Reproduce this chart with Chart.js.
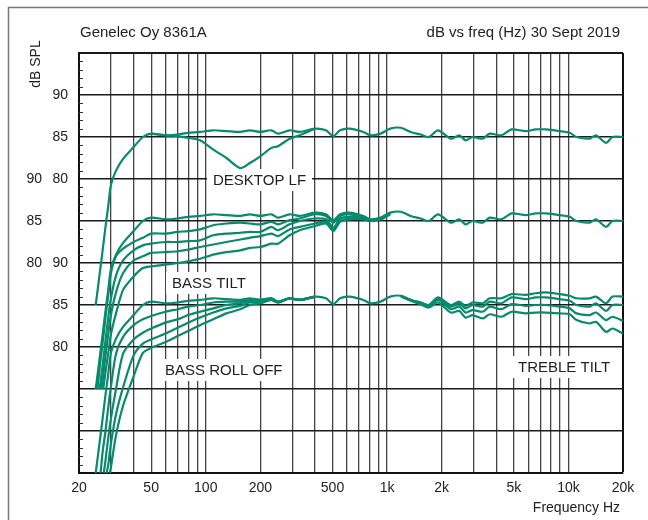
<!DOCTYPE html>
<html>
<head>
<meta charset="utf-8">
<script src="https://cdn.jsdelivr.net/npm/chart.js@4.4.1/dist/chart.umd.min.js"></script>
<style>
html, body { margin: 0; padding: 0; background: #fff; }
#wrap { width: 648px; height: 520px; }
</style>
</head>
<body>
<div id="wrap"><canvas id="myChart" width="648" height="520"></canvas></div>
<script>
const ctx = document.getElementById('myChart').getContext('2d');

// frequency grid of the readings (Hz)
const freqs = [25, 26, 27, 28, 29, 30, 32, 35, 40, 45, 50, 60, 70, 80, 93, 110, 130, 155, 175, 200,
    230, 250, 290, 330, 400, 460, 506, 550, 620, 740, 810, 920, 1040, 1190, 1350, 1530, 1700, 1910,
    2250, 2500, 2710, 2960, 3370, 3680, 4270, 4860, 5800, 6600, 7520, 8930, 10160, 11080, 13100,
    14200, 16100, 17500, 20000];
const lowFreqs = freqs.slice(0, 33);   // 25 Hz .. 1040 Hz
const highFreqs = freqs.slice(33);     // 1190 Hz .. 20 kHz

// dB SPL, all switches flat
const flat = [65.8, 68.7, 71.5, 74.3, 76.8, 79.3, 81.0, 82.4, 83.8, 85.0, 85.4, 85.2, 85.3, 85.5, 85.6,
    85.8, 85.7, 85.6, 85.8, 85.6, 85.8, 85.4, 85.8, 85.6, 86.0, 85.8, 85.1, 85.8, 86.0, 85.6, 85.2,
    85.4, 86.0, 86.1, 85.6, 85.3, 85.0, 85.8, 84.8, 85.2, 84.6, 85.0, 84.8, 85.4, 85.2, 85.9, 85.7,
    85.9, 85.9, 85.7, 85.5, 85.0, 84.8, 85.2, 84.3, 85.0, 85.0];

// desktop LF (on lowFreqs)
const desktop = [null, null, null, null, null, null, null, null, null, null, 85.4, 85.2, 85.1, 84.9,
    84.6, 83.5, 82.5, 81.3, 81.9, 82.7, 83.7, 83.9, 84.8, 85.2, 86.0];

// bass tilt steps (on lowFreqs)
const tilt1 = [null, 67.5, 70.5, 73.5, 76.2, 78.8, 80.8, 81.7, 82.5, 83.0, 83.5, 83.5, 83.7, 83.8, 84.0,
    84.5, 84.7, 84.8, 84.7, 84.6, 84.9, 84.6, 85.1, 85.3, 85.8, 85.6, 84.8, 85.6, 85.8, 85.5, 85.1, 85.3, 86.0];
const tilt2 = [null, null, 67.8, 70.8, 73.5, 75.8, 78.5, 80.3, 81.5, 82.1, 82.3, 82.5, 82.5, 82.6, 82.7,
    83.3, 83.5, 83.6, 83.7, 83.7, 84.3, 83.9, 84.6, 85.0, 85.3, 85.2, 84.2, 85.3, 85.5, 85.4, 85.1, 85.3, 85.9];
const tilt3 = [null, null, 66.0, 69.0, 71.5, 73.8, 76.5, 78.8, 80.3, 80.8, 81.2, 81.3, 81.4, 81.6, 81.9,
    82.2, 82.5, 82.8, 83.0, 83.2, 83.5, 83.2, 84.0, 84.3, 84.7, 84.9, 84.0, 85.0, 85.3, 85.3, 85.0, 85.2, 85.8];
const tilt4 = [null, null, null, 67.0, 69.3, 71.5, 74.0, 76.8, 78.4, 79.4, 79.6, 79.8, 80.0, 80.2, 80.5,
    81.0, 81.3, 81.5, 81.8, 81.9, 82.3, 82.3, 83.3, 83.9, 84.4, 84.7, 83.8, 84.9, 85.2, 85.2, 85.0, 85.2, 85.8];

// bass roll off steps (on lowFreqs)
const roll1 = [null, null, 67.5, 70.0, 72.8, 75.3, 79.2, 81.2, 82.6, 83.3, 83.7, 84.2, 84.5, 84.8, 85.0,
    85.3, 85.4, 85.4, 85.7, 85.6, 85.8, 85.4, 85.8, 85.6, 86.0];
const roll2 = [null, null, null, 66.5, 69.2, 71.5, 75.0, 79.2, 80.9, 81.7, 82.2, 82.9, 83.3, 83.8, 84.2,
    84.6, 85.0, 85.2, 85.5, 85.4, 85.7, 85.4, 85.8, 85.6, 86.0];
const roll3 = [null, null, null, null, 66.0, 68.5, 72.0, 75.2, 79.0, 80.4, 80.9, 81.6, 82.3, 82.9, 83.5,
    84.1, 84.6, 84.9, 85.3, 85.3, 85.6, 85.3, 85.8, 85.6, 86.0];
const roll4 = [null, null, null, null, null, 65.7, 69.5, 73.0, 76.5, 79.3, 79.9, 80.6, 81.3, 81.9, 82.6,
    83.3, 84.0, 84.5, 85.0, 85.2, 85.6, 85.3, 85.8, 85.6, 86.0];

// treble tilt steps (on highFreqs)
const trebleUp = [86.1, 85.6, 85.3, 85.0, 85.9, 85.0, 85.4, 84.9, 85.3, 85.2, 85.8, 85.8, 86.3, 86.2, 86.4,
    86.5, 86.3, 86.1, 85.8, 85.8, 86.0, 85.2, 86.0, 86.0];
const trebleDn1 = [86.1, 85.6, 85.2, 84.9, 85.6, 84.5, 84.8, 84.1, 84.4, 84.2, 84.8, 84.5, 85.1, 84.9, 85.0,
    85.0, 84.8, 84.6, 84.0, 83.8, 84.1, 83.2, 83.6, 83.1];
const trebleDn2 = [86.0, 85.5, 85.1, 84.7, 85.3, 84.1, 84.3, 83.5, 83.8, 83.4, 83.9, 83.6, 84.2, 84.0, 84.1,
    84.1, 84.0, 83.9, 83.2, 82.8, 83.0, 81.8, 82.2, 81.6];

// frequency where each curve leaves the 65 dB floor of its group
const floorDb = 65;
const startFlat = 24.7;
const startTilt = [25.3, 26.0, 26.6, 27.2];
const startRoll = [26.3, 27.4, 28.4, 29.6];

// dB offsets of the three stacked groups on the plotting scale
const offsetTop = 45, offsetMid = 55, offsetBottom = 65;

// axes
const xGrid = [20, 30, 40, 50, 60, 70, 80, 90, 100, 200, 300, 400, 500, 600, 700, 800, 900,
    1000, 2000, 3000, 4000, 5000, 6000, 7000, 8000, 9000, 10000, 20000];
const xTickVals = [20, 50, 100, 200, 500, 1000, 2000, 5000, 10000, 20000];
const xTickText = ['20', '50', '100', '200', '500', '1k', '2k', '5k', '10k', '20k'];
const yGrid = [0, 5, 10, 15, 20, 25, 30, 35, 40, 45, 50];
const yTickVals = [45, 40, 35, 30, 25, 20, 15];
const yTickRight = ['90', '85', '80', '', '90', '85', '80'];
const yTickLeft = ['', '', '90', '85', '80', '', ''];

const green = '#078a6d';
const ink = '#222';
const fontName = '"Liberation Sans", Arial, sans-serif';

function series(fs, vals, start, offset) {
    const pts = [];
    if (start) pts.push({x: start, y: floorDb - offset});
    fs.forEach(function (f, i) {
        if (vals[i] !== null && vals[i] !== undefined) pts.push({x: f, y: vals[i] - offset});
    });
    return pts;
}

const curves = [
    series(freqs, flat, startFlat, offsetTop),
    series(lowFreqs, desktop, null, offsetTop),
    series(freqs, flat, startFlat, offsetMid),
    series(lowFreqs, tilt1, startTilt[0], offsetMid),
    series(lowFreqs, tilt2, startTilt[1], offsetMid),
    series(lowFreqs, tilt3, startTilt[2], offsetMid),
    series(lowFreqs, tilt4, startTilt[3], offsetMid),
    series(freqs, flat, startFlat, offsetBottom),
    series(lowFreqs, roll1, startRoll[0], offsetBottom),
    series(lowFreqs, roll2, startRoll[1], offsetBottom),
    series(lowFreqs, roll3, startRoll[2], offsetBottom),
    series(lowFreqs, roll4, startRoll[3], offsetBottom),
    series(highFreqs, trebleUp, null, offsetBottom),
    series(highFreqs, trebleDn1, null, offsetBottom),
    series(highFreqs, trebleDn2, null, offsetBottom)
];

// boxed labels inside the plot
const notes = [
    {text: 'DESKTOP LF', x: 213, y: 180},
    {text: 'BASS TILT', x: 172, y: 283},
    {text: 'BASS ROLL OFF', x: 165, y: 370},
    {text: 'TREBLE TILT', x: 518, y: 367}
];

const decor = {
    id: 'decor',
    beforeDraw(chart) {
        const c = chart.ctx;
        c.save();
        c.strokeStyle = '#777';
        c.lineWidth = 1.5;
        c.strokeRect(8.5, 7.5, 700, 600);
        c.restore();
    },
    beforeDatasetsDraw(chart) {
        const c = chart.ctx;
        c.save();
        c.font = '15px ' + fontName;
        c.textBaseline = 'middle';
        c.textAlign = 'left';
        for (const n of notes) {
            const w = c.measureText(n.text).width;
            c.fillStyle = '#fff';
            c.fillRect(n.x - 6, n.y - 11, w + 12, 22);
            c.fillStyle = ink;
            c.fillText(n.text, n.x, n.y + 1);
        }
        c.restore();
    },
    afterDraw(chart) {
        const c = chart.ctx;
        const y = chart.scales.y;
        const area = chart.chartArea;
        c.save();
        // minor ticks, 1 dB
        c.strokeStyle = '#333';
        c.lineWidth = 1;
        for (let v = 1; v < 50; v++) {
            if (v % 5 === 0) continue;
            const py = Math.round(y.getPixelForValue(v)) + 0.5;
            c.beginPath();
            c.moveTo(area.left, py);
            c.lineTo(area.left + 4, py);
            c.stroke();
        }
        // second column of y labels
        c.fillStyle = ink;
        c.font = '14px ' + fontName;
        c.textAlign = 'right';
        c.textBaseline = 'middle';
        yTickVals.forEach(function (v, i) {
            if (yTickLeft[i]) c.fillText(yTickLeft[i], 42, y.getPixelForValue(v));
        });
        // titles
        c.font = '15px ' + fontName;
        c.textAlign = 'left';
        c.fillText('Genelec Oy 8361A', 80, 33);
        c.textAlign = 'right';
        c.fillText('dB vs freq (Hz) 30 Sept 2019', 620, 33);
        c.font = '14px ' + fontName;
        c.fillText('Frequency Hz', 620, 508);
        c.translate(36, 64);
        c.rotate(-Math.PI / 2);
        c.textAlign = 'center';
        c.font = '14px ' + fontName;
        c.fillText('dB SPL', 0, 0);
        c.restore();
    }
};

const myChart = new Chart(ctx, {
    type: 'line',
    data: {
        datasets: curves.map(function (pts) {
            return {data: pts, borderColor: green, borderWidth: 2.2, pointRadius: 0, fill: false, tension: 0.25};
        })
    },
    options: {
        responsive: false,
        animation: false,
        devicePixelRatio: 1,
        layout: {padding: {left: 0, right: 25, top: 53, bottom: 0}},
        plugins: {legend: {display: false}, tooltip: {enabled: false}},
        scales: {
            x: {
                type: 'logarithmic',
                min: 20,
                max: 20000,
                afterBuildTicks: function (s) { s.ticks = xGrid.map(function (v) { return {value: v}; }); },
                afterFit: function (s) { s.height = 47; },
                ticks: {
                    autoSkip: false,
                    maxRotation: 0,
                    padding: 7,
                    color: ink,
                    font: {family: fontName, size: 14},
                    callback: function (v) {
                        const i = xTickVals.indexOf(v);
                        return i < 0 ? '' : xTickText[i];
                    }
                },
                grid: {
                    drawTicks: false,
                    color: function (c) { return c.tick && c.tick.value === 20000 ? '#111' : '#444'; },
                    lineWidth: function (c) { return c.tick && c.tick.value === 20000 ? 2 : 1.3; }
                },
                border: {color: '#111', width: 2}
            },
            y: {
                min: 0,
                max: 50,
                afterBuildTicks: function (s) { s.ticks = yGrid.map(function (v) { return {value: v}; }); },
                afterFit: function (s) { s.width = 79; },
                ticks: {
                    padding: 11,
                    color: ink,
                    font: {family: fontName, size: 14},
                    callback: function (v) {
                        const i = yTickVals.indexOf(v);
                        return i < 0 ? '' : yTickRight[i];
                    }
                },
                grid: {
                    drawTicks: false,
                    color: '#1a1a1a',
                    lineWidth: function (c) { return c.tick && c.tick.value === 50 ? 2 : 1.6; }
                },
                border: {color: '#111', width: 2}
            }
        }
    },
    plugins: [decor]
});
</script>
</body>
</html>
